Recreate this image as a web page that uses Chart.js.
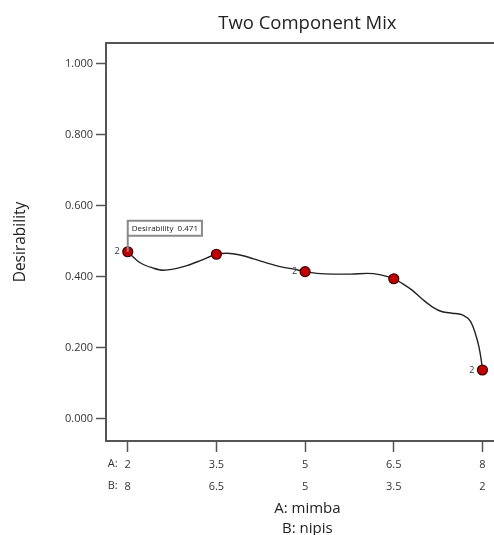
<!DOCTYPE html>
<html>
<head>
<meta charset="utf-8">
<script src="https://cdn.jsdelivr.net/npm/chart.js@4.4.1/dist/chart.umd.min.js"></script>
<style>
html,body{margin:0;padding:0;background:#fff;}
#wrap{width:494px;height:535px;overflow:hidden;position:relative;}
canvas{display:block;}
</style>
</head>
<body>
<div id="wrap"><canvas id="c" width="515" height="535" style="width:515px;height:535px"></canvas></div>
<script>
// ---- data ----
const titleText = 'Two Component Mix';
const yTitle = 'Desirability';
const xTitleLines = ['A: mimba', 'B: nipis'];
const compA = [2, 3.5, 5, 6.5, 8];
const compB = [8, 6.5, 5, 3.5, 2];
const designY = [0.471, 0.464, 0.415, 0.395, 0.138];
const replicates = [2, 1, 2, 1, 2];
const curveX = [2, 2.21, 2.43, 2.60, 2.77, 3.0, 3.23, 3.5, 3.68, 3.90, 4.13, 4.36, 4.58, 4.81, 5, 5.20, 5.48, 5.77, 6.05, 6.28, 6.5, 6.64, 6.81, 6.98, 7.15, 7.32, 7.49, 7.66, 7.80, 7.88, 7.94, 7.98, 8];
const curveY = [0.471, 0.440, 0.425, 0.419, 0.422, 0.432, 0.446, 0.464, 0.467, 0.462, 0.451, 0.439, 0.429, 0.422, 0.415, 0.410, 0.408, 0.408, 0.410, 0.406, 0.395, 0.382, 0.363, 0.338, 0.316, 0.302, 0.298, 0.293, 0.274, 0.241, 0.204, 0.166, 0.138];
const yTicks = [0, 0.2, 0.4, 0.6, 0.8, 1.0];
const annotLabel = 'Desirability';
const annotIndex = 0;

const FONT = "'Open Sans', 'Noto Sans', sans-serif";
const AXIS = '#555';

const extras = {
  id: 'extras',
  afterDraw(chart) {
    const ctx = chart.ctx;
    const ca = chart.chartArea;
    const xs = chart.scales.x, ys = chart.scales.y;
    ctx.save();
    // top frame line
    ctx.strokeStyle = AXIS;
    ctx.lineWidth = 2;
    ctx.beginPath();
    ctx.moveTo(ca.left - 1, ca.top);
    ctx.lineTo(ca.right, ca.top);
    ctx.stroke();
    // A:/B: prefixes
    ctx.fillStyle = '#333';
    ctx.font = "11px " + FONT;
    ctx.textAlign = 'left';
    ctx.textBaseline = 'middle';
    const x0 = xs.getPixelForValue(compA[0]) - 20;
    ctx.fillText('A:', x0, ca.bottom + 23);
    ctx.fillText('B:', x0, ca.bottom + 45);
    // replicate labels
    ctx.font = "9px " + FONT;
    ctx.textAlign = 'right';
    for (let i = 0; i < compA.length; i++) {
      if (replicates[i] > 1) {
        ctx.fillText(String(replicates[i]), xs.getPixelForValue(compA[i]) - 8, ys.getPixelForValue(designY[i]));
      }
    }
    ctx.restore();
  }
};

const annot = {
  id: 'annot',
  afterDatasetsDraw(chart) {
    const ctx = chart.ctx;
    const xs = chart.scales.x, ys = chart.scales.y;
    const px = xs.getPixelForValue(compA[annotIndex]);
    const py = ys.getPixelForValue(designY[annotIndex]);
    const txt = annotLabel + '  ' + designY[annotIndex].toFixed(3);
    ctx.save();
    ctx.font = "8px " + FONT;
    const w = ctx.measureText(txt).width + 8;
    const h = 15;
    const bx = px, by = py - 31;
    ctx.strokeStyle = '#8a8a8a';
    ctx.lineWidth = 2;
    ctx.beginPath();
    ctx.moveTo(px, by + h);
    ctx.lineTo(px, py);
    ctx.stroke();
    ctx.fillStyle = '#fff';
    ctx.fillRect(bx, by, w, h);
    ctx.strokeRect(bx, by, w, h);
    ctx.fillStyle = '#222';
    ctx.textAlign = 'left';
    ctx.textBaseline = 'middle';
    ctx.fillText(txt, bx + 4, by + h / 2 + 0.5);
    ctx.restore();
  }
};

new Chart(document.getElementById('c'), {
  type: 'scatter',
  data: {
    datasets: [
      {
        type: 'line',
        data: curveX.map((x, i) => ({x: x, y: curveY[i]})),
        borderColor: '#222',
        borderWidth: 1.4,
        pointRadius: 0,
        cubicInterpolationMode: 'monotone',
        fill: false,
        order: 2
      },
      {
        type: 'scatter',
        data: compA.map((x, i) => ({x: x, y: designY[i]})),
        backgroundColor: '#c00000',
        borderColor: '#3a0000',
        borderWidth: 1.2,
        pointRadius: 5,
        order: 1
      }
    ]
  },
  options: {
    responsive: false,
    animation: false,
    layout: {padding: {left: 0, right: 2, top: 0, bottom: 0}},
    plugins: {
      legend: {display: false},
      tooltip: {enabled: false},
      title: {
        display: true,
        text: titleText,
        fullSize: false,
        color: '#222',
        font: {family: FONT, size: 18.5, weight: 'normal', lineHeight: 1.2},
        padding: {top: 13, bottom: 7.8}
      }
    },
    scales: {
      x: {
        type: 'linear',
        min: 1.632,
        max: 8.446,
        afterBuildTicks: s => { s.ticks = compA.map(v => ({value: v})); },
        afterFit: s => { s.height = 94; },
        grid: {drawOnChartArea: false, drawTicks: true, tickLength: 11, tickColor: AXIS, tickWidth: 1.5},
        border: {display: true, color: AXIS, width: 2},
        ticks: {
          color: '#333',
          font: {family: FONT, size: 11, lineHeight: 2},
          padding: 2,
          maxRotation: 0,
          autoSkip: false,
          callback: (v) => { const i = compA.indexOf(v); return i < 0 ? '' : [String(compA[i]), String(compB[i])]; }
        },
        title: {
          display: true,
          text: xTitleLines,
          color: '#222',
          font: {family: FONT, size: 15, lineHeight: 1.33},
          padding: {top: 0, bottom: -4}
        }
      },
      y: {
        type: 'linear',
        min: -0.062,
        max: 1.059,
        afterBuildTicks: s => { s.ticks = yTicks.map(v => ({value: v})); },
        afterFit: s => { s.width = 106; },
        grid: {drawOnChartArea: false, drawTicks: true, tickLength: 10, tickColor: AXIS, tickWidth: 1.5},
        border: {display: true, color: AXIS, width: 2},
        ticks: {
          color: '#333',
          font: {family: FONT, size: 11},
          padding: 3,
          callback: v => Number(v).toFixed(3)
        },
        title: {
          display: true,
          text: yTitle,
          color: '#222',
          font: {family: FONT, size: 15.5},
          padding: {top: 11, bottom: 0}
        }
      }
    }
  },
  plugins: [extras, annot]
});
</script>
</body>
</html>
